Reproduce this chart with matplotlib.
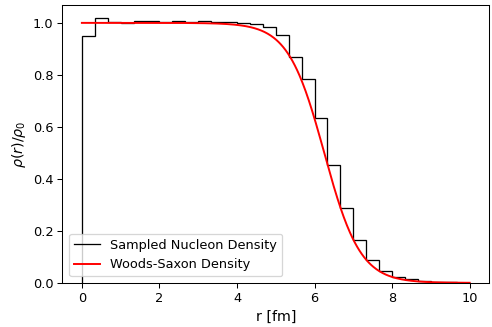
import numpy as np
import matplotlib.pyplot as plt

# histogram of sampled radii, 30 bins over 0..10 fm
edges = np.linspace(0, 10, 31)
counts = [0.950, 1.017, 1.004, 1.001, 1.009, 1.008, 1.003, 1.008, 1.004, 1.006,
          1.004, 1.003, 1.001, 0.996, 0.983, 0.953, 0.870, 0.786, 0.636, 0.454,
          0.287, 0.165, 0.088, 0.046, 0.024, 0.013, 0.007, 0.004, 0.002, 0.001]

R = 6.25   # fm
a = 0.465  # fm

def woods_saxon(r, R, a):
    return 1. / (1. + np.exp((r - R) / a))

r = np.linspace(0, 10, 500)
rho = woods_saxon(r, R, a) / woods_saxon(0, R, a)

dpi = 93
fig = plt.figure(figsize=(492 / dpi, 327 / dpi), dpi=dpi)
fig.subplots_adjust(left=0.127, right=0.994, top=0.984, bottom=0.135)
ax = fig.add_subplot(111)

ax.stairs(counts, edges, color='k', linewidth=1, label='Sampled Nucleon Density')
ax.plot(r, rho, 'r', linewidth=1.5, label='Woods-Saxon Density')

ax.set_ylim(bottom=0)
ax.set_xlabel('r [fm]', fontsize=11)
ax.set_ylabel(r'$\rho(r)/\rho_0$', fontsize=11)
ax.legend(loc='lower left')

plt.savefig('out.png')
plt.close()
